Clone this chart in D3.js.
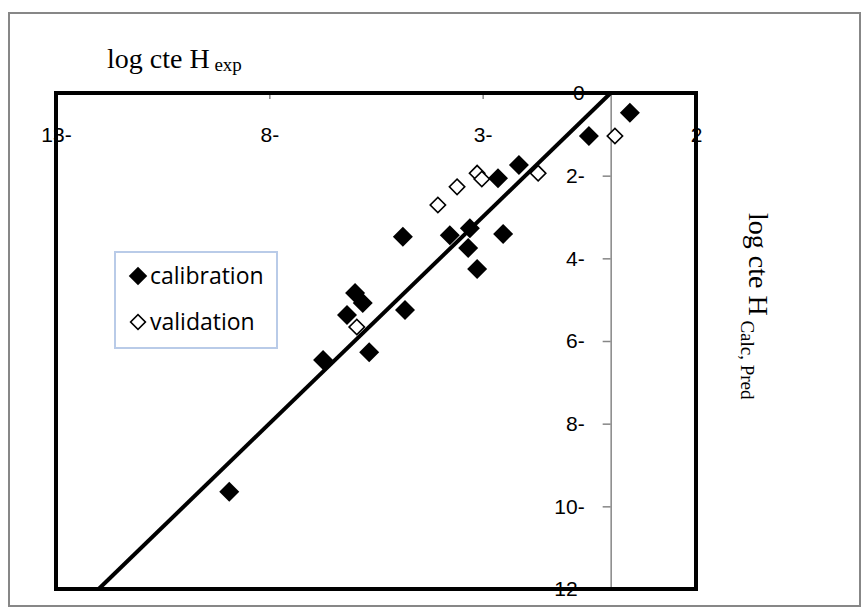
<!DOCTYPE html>
<html>
<head>
<meta charset="utf-8">
<script src="https://cdn.jsdelivr.net/npm/d3@7/dist/d3.min.js"></script>
<style>
	body { margin: 0; background: #ffffff; }
</style>
</head>
<body>
<svg id="chart" width="868" height="613"></svg>
<script>
/* DATA (log cte H, experimental vs calculated / predicted) */
var calib_X = [0.45, -0.51, -2.15, -2.64, -4.87, -3.77, -3.30, -2.52, -3.34, -3.13, -5.99, -5.81, -6.18, -4.82, -5.66, -6.74, -8.94];
var calib_Y = [-0.48, -1.04, -1.74, -2.06, -3.48, -3.44, -3.27, -3.41, -3.75, -4.26, -4.84, -5.08, -5.37, -5.25, -6.27, -6.46, -9.65];

var valid_X = [-4.05, -3.60, -3.13, -3.02, -1.70, 0.10, -5.95];
var valid_Y = [-2.71, -2.27, -1.94, -2.08, -1.94, -1.04, -5.66];

var line_X = [-12, 0];
var line_Y = [-12, 0];

var x_Ticks = [-13, -8, -3, 2];
var y_Ticks = [0, -2, -4, -6, -8, -10, -12];

var legend_Names = ["calibration", "validation"];

/* chart settings */
var svg = d3.select("#chart");
var plot = { left: 56, top: 93, right: 696, bottom: 589 };

var x = d3.scaleLinear().domain([-13, 2]).range([plot.left, plot.right]);
var y = d3.scaleLinear().domain([0, -12]).range([plot.top, plot.bottom]);

/* right-to-left style minus sign: "13-" */
var rtl_Format = function(d){
	return d < 0 ? Math.abs(d) + "-" : String(d);
};

/* outer chart border */
svg.append("rect")
	.attr("x", 9).attr("y", 13)
	.attr("width", 851).attr("height", 593)
	.attr("fill", "#ffffff")
	.attr("stroke", "#878787")
	.attr("stroke-width", 2);

/* axes */
var x_Axis = svg.append("g")
	.attr("transform", "translate(0," + y(0) + ")")
	.call(d3.axisBottom(x).tickValues(x_Ticks).tickSize(6).tickSizeOuter(0).tickPadding(28).tickFormat(rtl_Format));

var y_Axis = svg.append("g")
	.attr("transform", "translate(" + x(0) + ",0)")
	.call(d3.axisLeft(y).tickValues(y_Ticks).tickSize(8).tickSizeOuter(0).tickPadding(18).tickFormat(rtl_Format));

[x_Axis, y_Axis].forEach(function(axis){
	axis.select(".domain").attr("stroke", "#868686").attr("stroke-width", 1.5);
	axis.selectAll(".tick line").attr("stroke", "#868686").attr("stroke-width", 1.5);
	axis.selectAll(".tick text")
		.attr("fill", "#000000")
		.style("font-family", "'Liberation Sans', Arial, sans-serif")
		.style("font-size", "21px");
});

/* 1:1 line */
svg.append("line")
	.attr("x1", x(line_X[0])).attr("y1", y(line_Y[0]))
	.attr("x2", x(line_X[1])).attr("y2", y(line_Y[1]))
	.attr("stroke", "#000000")
	.attr("stroke-width", 4);

/* points */
var filled_Diamond = d3.symbol().type(d3.symbolSquare).size(200);
var open_Diamond = d3.symbol().type(d3.symbolSquare).size(118);

svg.append("g").selectAll("path")
	.data(d3.range(calib_X.length))
	.join("path")
	.attr("d", filled_Diamond)
	.attr("transform", function(i){ return "translate(" + x(calib_X[i]) + "," + y(calib_Y[i]) + ") rotate(45)"; })
	.attr("fill", "#000000");

svg.append("g").selectAll("path")
	.data(d3.range(valid_X.length))
	.join("path")
	.attr("d", open_Diamond)
	.attr("transform", function(i){ return "translate(" + x(valid_X[i]) + "," + y(valid_Y[i]) + ") rotate(45)"; })
	.attr("fill", "#ffffff")
	.attr("stroke", "#000000")
	.attr("stroke-width", 1.6);

/* plot area border (drawn over the tick labels, like the original) */
svg.append("rect")
	.attr("x", plot.left).attr("y", plot.top)
	.attr("width", plot.right - plot.left).attr("height", plot.bottom - plot.top)
	.attr("fill", "none")
	.attr("stroke", "#000000")
	.attr("stroke-width", 4);

/* axis titles */
var x_Title = svg.append("text")
	.attr("x", 107).attr("y", 68)
	.style("font-family", "'Liberation Serif', 'Times New Roman', serif")
	.attr("fill", "#000000");
x_Title.append("tspan").style("font-size", "28px").text("log cte H");
x_Title.append("tspan").style("font-size", "19px").attr("dy", 3).text(" exp");

var y_Title = svg.append("text")
	.attr("transform", "translate(749,213) rotate(90)")
	.style("font-family", "'Liberation Serif', 'Times New Roman', serif")
	.attr("fill", "#000000");
y_Title.append("tspan").style("font-size", "28px").text("log cte H");
y_Title.append("tspan").style("font-size", "19px").attr("dy", 8).text(" Calc, Pred");

/* legend */
var legend = svg.append("g");
legend.append("rect")
	.attr("x", 115).attr("y", 252)
	.attr("width", 162).attr("height", 96)
	.attr("fill", "#ffffff")
	.attr("stroke", "#b9cbe8")
	.attr("stroke-width", 2);

var legend_Items = legend.selectAll("g.item")
	.data(legend_Names)
	.join("g")
	.attr("class", "item")
	.attr("transform", function(d, i){ return "translate(0," + (i * 46) + ")"; });

legend_Items.append("path")
	.attr("d", function(d, i){ return i == 0 ? d3.symbol().type(d3.symbolSquare).size(170)() : d3.symbol().type(d3.symbolSquare).size(110)(); })
	.attr("transform", "translate(138,276) rotate(45)")
	.attr("fill", function(d, i){ return i == 0 ? "#000000" : "#ffffff"; })
	.attr("stroke", function(d, i){ return i == 0 ? "none" : "#000000"; })
	.attr("stroke-width", 1.6);

legend_Items.append("text")
	.attr("x", 150).attr("y", 284)
	.style("font-family", "'Open Sans', sans-serif")
	.style("font-size", "23px")
	.attr("fill", "#000000")
	.text(function(d){ return d; });
</script>
</body>
</html>
